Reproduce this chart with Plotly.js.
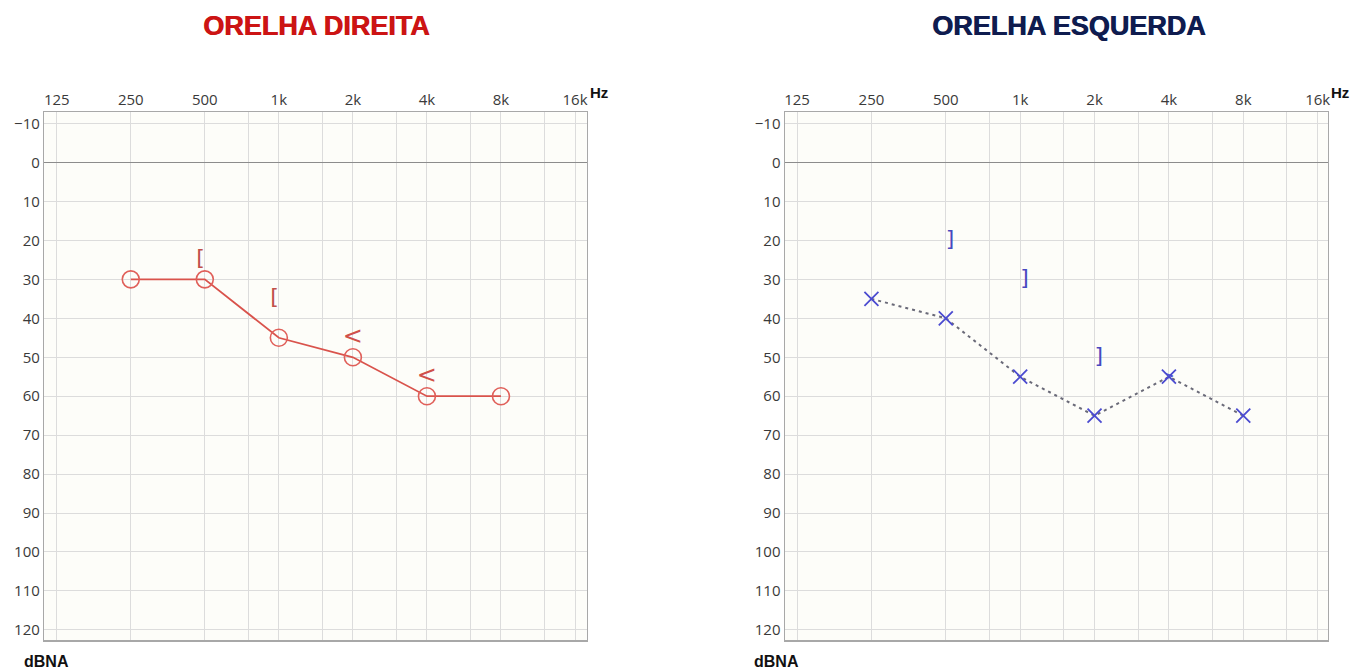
<!DOCTYPE html>
<html>
<head>
<meta charset="utf-8">
<script src="https://cdn.plot.ly/plotly-3.0.1.min.js"></script>
<style>html,body{margin:0;padding:0;background:#fff;}#chart{width:1355px;height:670px;}</style>
</head>
<body>
<div id="chart"></div>
<script>
// ---- data ----
const freqs = [250, 500, 1000, 2000, 4000, 8000];
const rightAir = [30, 30, 45, 50, 60, 60];
const leftAir = [35, 40, 55, 65, 55, 65];
const rightBoneMaskedFreqs = [500, 1000];
const rightBoneMasked = [25, 35];
const rightBoneFreqs = [2000, 4000];
const rightBone = [45, 55];
const leftBoneMaskedFreqs = [500, 1000, 2000];
const leftBoneMasked = [20, 30, 50];
const leftBoneFreqs = [4000];
const leftBone = [55];
const tickFreqs = [125, 250, 500, 750, 1000, 1500, 2000, 3000, 4000, 6000, 8000, 12000, 16000];
const tickLabels = ['125', '250', '500', '', '1k', '', '2k', '', '4k', '', '8k', '', '16k'];
const dbTicks = [-10, 0, 10, 20, 30, 40, 50, 60, 70, 80, 90, 100, 110, 120];

// ---- layout helpers ----
const W = 1355, H = 670;
const tickFont = {family: 'Open Sans, DejaVu Sans, sans-serif', size: 15, color: '#3a3a3a'};
function xAxis(domain, range) {
  return {
    type: 'log', domain: domain, range: range, side: 'top',
    tickvals: tickFreqs, ticktext: tickLabels, tickfont: tickFont,
    ticks: '', showgrid: true, gridcolor: '#dcdcdc', gridwidth: 1,
    showline: true, linecolor: '#a8a8a8', linewidth: 1.5, mirror: true,
    zeroline: false, fixedrange: true
  };
}
function yAxis(anchor) {
  return {
    anchor: anchor, domain: [1 - 640 / H, 1 - 112.3 / H], range: [122.6, -12.9],
    tickvals: dbTicks, tickfont: tickFont, ticks: '',
    showgrid: true, gridcolor: '#dcdcdc', gridwidth: 1,
    zeroline: true, zerolinecolor: '#8c8c8c', zerolinewidth: 1,
    showline: true, linecolor: '#a8a8a8', linewidth: 1.5, mirror: true,
    fixedrange: true
  };
}
const L2 = Math.log10(2);
const leftRange = [Math.log10(125) - 0.168 * L2, Math.log10(16000) + 0.158 * L2];
const rightRange = [Math.log10(125) - 0.162 * L2, Math.log10(16000) + 0.135 * L2];

const traces = [
  {x: freqs, y: rightAir, xaxis: 'x', yaxis: 'y', mode: 'lines+markers', type: 'scatter',
   line: {color: '#d9534c', width: 1.8},
   marker: {symbol: 'circle-open', size: 17, color: '#e0605a', line: {width: 1.6}}},
  {x: rightBoneMaskedFreqs, y: rightBoneMasked, xaxis: 'x', yaxis: 'y', mode: 'text', type: 'scatter',
   text: rightBoneMaskedFreqs.map(() => '['), textposition: 'middle left',
   textfont: {family: 'DejaVu Sans', size: 22, color: '#c0504a'}},
  {x: rightBoneFreqs, y: rightBone, xaxis: 'x', yaxis: 'y', mode: 'text', type: 'scatter',
   text: rightBoneFreqs.map(() => '<'), textposition: 'middle center',
   textfont: {family: 'DejaVu Sans', size: 24, color: '#d0504a'}},
  {x: freqs, y: leftAir, xaxis: 'x2', yaxis: 'y2', mode: 'lines', type: 'scatter',
   line: {color: '#6a6a78', width: 2, dash: '3px,4px'}},
  {x: freqs, y: leftAir, xaxis: 'x2', yaxis: 'y2', mode: 'markers', type: 'scatter',
   marker: {symbol: 'x-thin-open', size: 14, color: '#4b4bd0', line: {width: 1.8, color: '#4b4bd0'}}},
  {x: leftBoneMaskedFreqs, y: leftBoneMasked, xaxis: 'x2', yaxis: 'y2', mode: 'text', type: 'scatter',
   text: leftBoneMaskedFreqs.map(() => ']'), textposition: 'middle right',
   textfont: {family: 'DejaVu Sans', size: 22, color: '#4848c0'}},
  {x: leftBoneFreqs, y: leftBone, xaxis: 'x2', yaxis: 'y2', mode: 'text', type: 'scatter',
   text: leftBoneFreqs.map(() => '>'), textposition: 'middle center',
   textfont: {family: 'DejaVu Sans', size: 13, color: '#4b4bd0'}}
];

const titleFont = {family: 'Liberation Sans, Arial, sans-serif', size: 27, weight: 'bold'};
const layout = {
  width: W, height: H, margin: {l: 0, r: 0, t: 0, b: 0},
  paper_bgcolor: '#ffffff', plot_bgcolor: '#fdfdf9', showlegend: false,
  xaxis: xAxis([44.3 / W, 586.7 / W], leftRange),
  yaxis: yAxis('x'),
  xaxis2: xAxis([785 / W, 1327.7 / W], rightRange),
  yaxis2: yAxis('x2'),
  annotations: [
    {text: 'ORELHA DIREITA', xref: 'paper', yref: 'paper', x: 316 / W, y: 1 - 25.5 / H,
     xanchor: 'center', yanchor: 'middle', showarrow: false,
     font: Object.assign({}, titleFont, {color: '#cc1414', shadow: '0.8px 0 0 #cc1414'})},
    {text: 'ORELHA ESQUERDA', xref: 'paper', yref: 'paper', x: 1069 / W, y: 1 - 25.5 / H,
     xanchor: 'center', yanchor: 'middle', showarrow: false,
     font: Object.assign({}, titleFont, {color: '#0f1c4f', shadow: '0.8px 0 0 #0f1c4f'})},
    {text: 'Hz', xref: 'paper', yref: 'paper', x: 599 / W, y: 1 - 93 / H,
     xanchor: 'center', yanchor: 'middle', showarrow: false,
     font: {family: 'Liberation Sans, Arial, sans-serif', size: 15, weight: 'bold', color: '#111'}},
    {text: 'Hz', xref: 'paper', yref: 'paper', x: 1340 / W, y: 1 - 93 / H,
     xanchor: 'center', yanchor: 'middle', showarrow: false,
     font: {family: 'Liberation Sans, Arial, sans-serif', size: 15, weight: 'bold', color: '#111'}},
    {text: 'dBNA', xref: 'paper', yref: 'paper', x: 22 / W, y: 1 - 661 / H,
     xanchor: 'left', yanchor: 'middle', showarrow: false,
     font: {family: 'Liberation Sans Narrow, Liberation Sans, Arial, sans-serif', size: 16, weight: 'bold', color: '#111'}},
    {text: 'dBNA', xref: 'paper', yref: 'paper', x: 752 / W, y: 1 - 661 / H,
     xanchor: 'left', yanchor: 'middle', showarrow: false,
     font: {family: 'Liberation Sans Narrow, Liberation Sans, Arial, sans-serif', size: 16, weight: 'bold', color: '#111'}}
  ]
};

Plotly.newPlot('chart', traces, layout, {displayModeBar: false, staticPlot: true});
</script>
</body>
</html>
